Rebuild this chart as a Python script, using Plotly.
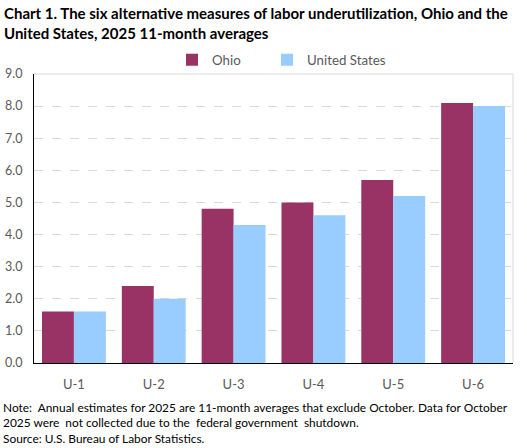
import plotly.graph_objects as go

categories = ["U-1", "U-2", "U-3", "U-4", "U-5", "U-6"]
ohio = [1.6, 2.4, 4.8, 5.0, 5.7, 8.1]
us = [1.6, 2.0, 4.3, 4.6, 5.2, 8.0]
yticks = [0, 1, 2, 3, 4, 5, 6, 7, 8, 9]
ytick_labels = [f"{v:.1f}" for v in yticks]

FONT = "Lato, Carlito, Calibri, sans-serif"

# plot area in pixels: left 34, right 513, top 74, bottom 363
L, R, T, B = 34, 14, 74, 85
PH = 448 - T - B
PW = 527 - L - R


def py(pix):
    return (448 - B - pix) / PH


def px(pix):
    return (pix - L) / PW


fig = go.Figure()
fig.add_trace(go.Bar(name="Ohio", x=categories, y=ohio, legend="legend",
                     marker=dict(color="#993366", line=dict(width=0))))
fig.add_trace(go.Bar(name="United States", x=categories, y=us, legend="legend2",
                     marker=dict(color="#99CCFF", line=dict(width=0))))

legend_common = dict(orientation="h", yanchor="middle", xanchor="left",
                     font=dict(family=FONT, size=13.3, color="#595959"),
                     itemwidth=30, bgcolor="rgba(0,0,0,0)")

fig.update_layout(
    width=527, height=448,
    margin=dict(l=L, r=R, t=T, b=B, autoexpand=False),
    paper_bgcolor="white", plot_bgcolor="white",
    barmode="group", bargap=0.2, bargroupgap=0,
    font=dict(family=FONT, size=12, color="#595959"),
    legend=dict(x=px(172), y=py(60), **legend_common),
    legend2=dict(x=px(267), y=py(60), **legend_common),
    showlegend=True,
)
fig.update_xaxes(showline=True, linecolor="black", linewidth=1, ticks="",
                 tickfont=dict(size=13, color="#595959"), showgrid=False,
                 ticklabelstandoff=9, automargin=False)
fig.update_yaxes(range=[0, 9], tickvals=yticks, ticktext=ytick_labels,
                 showline=True, linecolor="black", linewidth=1,
                 showgrid=True, gridcolor="#D9D9D9", griddash="dash", gridwidth=1,
                 tickfont=dict(size=12.5, color="#595959"), zeroline=False,
                 ticklabelstandoff=8, automargin=False)
# top and right border of plot area
fig.add_shape(type="line", xref="paper", yref="paper", x0=0, x1=1, y0=1, y1=1,
              line=dict(color="#D9D9D9", width=1))
fig.add_shape(type="line", xref="paper", yref="paper", x0=1, x1=1, y0=0, y1=1,
              line=dict(color="#D9D9D9", width=1))

fig.add_annotation(
    text="<b>Chart 1. The six alternative measures of labor underutilization, Ohio and the<br>United States, 2025 11-month averages</b>",
    xref="paper", yref="paper", x=px(2), xanchor="left", y=py(2), yanchor="top",
    showarrow=False, align="left", font=dict(family=FONT, size=15, color="black"),
)
fig.add_annotation(
    text="Note:  Annual estimates for 2025 are 11-month averages that exclude October. Data for October<br>2025 were  not collected due to the  federal government  shutdown.<br>Source: U.S. Bureau of Labor Statistics.",
    xref="paper", yref="paper", x=px(1), xanchor="left", y=py(398), yanchor="top",
    showarrow=False, align="left", font=dict(family=FONT, size=11.9, color="black"),
)

fig.write_html("out.html", config={"displayModeBar": False},
               post_script="document.body.style.margin='0';document.body.style.overflow='hidden';")
